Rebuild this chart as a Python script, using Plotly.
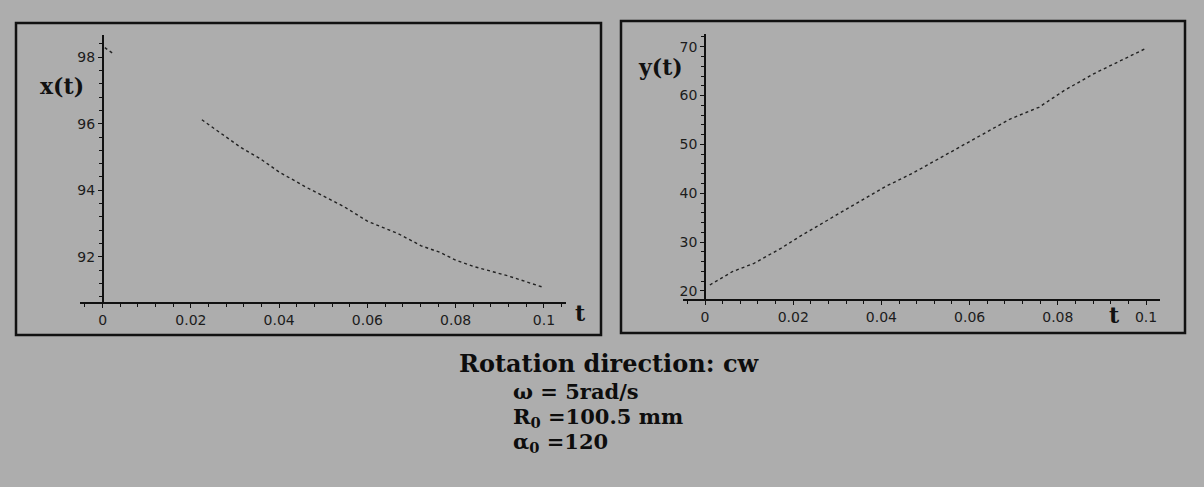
import plotly.graph_objects as go

# ---------------- data ----------------
t_left = [0.0005, 0.0025, None, 0.0225, 0.0314, 0.0357, 0.040, 0.046, 0.0487,
          0.0548, 0.060, 0.0669, 0.0722, 0.0765, 0.080, 0.0843, 0.092, 0.0999]
x_vals = [98.29, 98.10, None, 96.12, 95.28, 94.95, 94.55, 94.10, 93.92,
          93.50, 93.07, 92.70, 92.33, 92.13, 91.90, 91.70, 91.42, 91.08]

t_right = [0.0011, 0.0062, 0.0111, 0.0172, 0.022, 0.0286, 0.0343, 0.0408, 0.047,
           0.0531, 0.0579, 0.064, 0.0692, 0.0757, 0.0814, 0.088, 0.0967, 0.1002]
y_vals = [21.23, 23.95, 25.66, 28.73, 31.45, 34.87, 37.93, 41.33, 44.07,
          47.14, 49.50, 52.60, 55.20, 57.60, 61.00, 64.40, 68.30, 69.75]

t_ticks = [0, 0.02, 0.04, 0.06, 0.08, 0.1]
t_ticklabels = ["0", "0.02", "0.04", "0.06", "0.08", "0.1"]
x_ticks = [92, 94, 96, 98]
y_ticks = [20, 30, 40, 50, 60, 70]

info_title = "Rotation direction: cw"
info_lines = ["ω = 5rad/s", "R<sub>0</sub> =100.5 mm", "α<sub>0</sub> =120"]

# ---------------- layout helpers ----------------
W, H = 1204, 487
BG = "#adadad"
INK = "#1c1c1c"


def px(x):
    return x / W


def py(y):
    return 1 - y / H


tick_font = dict(family="DejaVu Sans", size=14, color=INK)
label_font = dict(family="DejaVu Serif", size=22, color="#111111", weight="bold")

fig = go.Figure()

fig.add_trace(go.Scatter(
    x=t_left, y=x_vals, mode="lines", connectgaps=False,
    line=dict(color="#222222", width=1.4, dash="dot"),
    xaxis="x", yaxis="y", showlegend=False, hoverinfo="skip"))

fig.add_trace(go.Scatter(
    x=t_right, y=y_vals, mode="lines",
    line=dict(color="#222222", width=1.4, dash="dot"),
    xaxis="x2", yaxis="y2", showlegend=False, hoverinfo="skip"))

# Left panel geometry (pixels)
L_x0, L_x1 = 80, 566
L_y0, L_y1 = 35, 302
L_trange = [-0.00512, 0.105]
L_yrange = [90.64, 98.67]
L_zero_px = 102.6

# Right panel geometry (pixels)
R_x0, R_x1 = 683, 1160
R_y0, R_y1 = 34, 299
R_trange = [-0.00499, 0.10317]
R_yrange = [18.36, 72.6]
R_zero_px = 705

common_axis = dict(showgrid=False, zeroline=False, showline=True,
                   linecolor="#111111", linewidth=1.5, tickfont=tick_font,
                   ticks="outside", ticklen=4, tickwidth=1, tickcolor="#111111")

fig.update_layout(
    width=W, height=H,
    margin=dict(l=0, r=0, t=0, b=0),
    paper_bgcolor=BG, plot_bgcolor="rgba(0,0,0,0)",
    showlegend=False,
    xaxis=dict(domain=[px(L_x0), px(L_x1)], range=L_trange, anchor="y",
               tickvals=t_ticks, ticktext=t_ticklabels,
               minor=dict(dtick=0.004, tick0=0, ticklen=3, ticks="outside",
                          tickcolor="#111111"),
               **common_axis),
    yaxis=dict(domain=[py(L_y1), py(L_y0)], range=L_yrange,
               anchor="free", position=px(L_zero_px),
               tickvals=x_ticks,
               minor=dict(dtick=0.4, tick0=90, ticklen=3, ticks="outside",
                          tickcolor="#111111"),
               **common_axis),
    xaxis2=dict(domain=[px(R_x0), px(R_x1)], range=R_trange, anchor="y2",
                tickvals=t_ticks, ticktext=t_ticklabels,
                minor=dict(dtick=0.004, tick0=0, ticklen=3, ticks="outside",
                           tickcolor="#111111"),
                **common_axis),
    yaxis2=dict(domain=[py(R_y1), py(R_y0)], range=R_yrange,
                anchor="free", position=px(R_zero_px),
                tickvals=y_ticks,
                minor=dict(dtick=2, tick0=20, ticklen=3, ticks="outside",
                           tickcolor="#111111"),
                **common_axis),
)

# Panel frames
fig.add_shape(type="rect", xref="paper", yref="paper",
              x0=px(16), x1=px(601), y0=py(335), y1=py(23),
              line=dict(color="#111111", width=2.5))
fig.add_shape(type="rect", xref="paper", yref="paper",
              x0=px(621), x1=px(1185), y0=py(333), y1=py(21),
              line=dict(color="#111111", width=2.5))

# Axis labels
fig.add_annotation(text="x(t)", xref="paper", yref="paper", x=px(62), y=py(86),
                   showarrow=False, font=label_font, xanchor="center", yanchor="middle")
fig.add_annotation(text="t", xref="paper", yref="paper", x=px(580), y=py(313),
                   showarrow=False, font=label_font, xanchor="center", yanchor="middle")
fig.add_annotation(text="y(t)", xref="paper", yref="paper", x=px(660), y=py(67),
                   showarrow=False, font=label_font, xanchor="center", yanchor="middle")
fig.add_annotation(text="t", xref="paper", yref="paper", x=px(1114), y=py(315),
                   showarrow=False, font=label_font, xanchor="center", yanchor="middle")

# Info text below the panels
title_font = dict(family="DejaVu Serif", size=24, color="#0d0d0d", weight="bold")
info_font = dict(family="DejaVu Serif", size=21, color="#0d0d0d", weight="bold")
fig.add_annotation(text=info_title, xref="paper", yref="paper", x=px(609), y=py(363),
                   showarrow=False, font=title_font, xanchor="center", yanchor="middle")
line_y = [391, 417, 442]
for txt, yy in zip(info_lines, line_y):
    fig.add_annotation(text=txt, xref="paper", yref="paper", x=px(512), y=py(yy),
                       showarrow=False, font=info_font, xanchor="left", yanchor="middle",
                       borderpad=0)

fig.write_html("out.html")
